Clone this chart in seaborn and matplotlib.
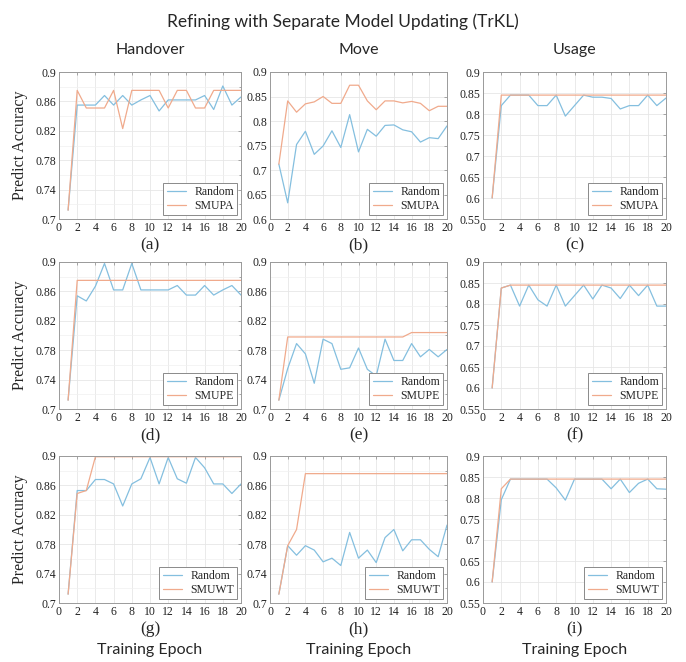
import matplotlib
matplotlib.use('Agg')
import pandas as pd
import matplotlib.pyplot as plt
import seaborn as sns
from matplotlib.ticker import MultipleLocator

#%% data
epochs = list(range(1, 21))

# row 1: SMUPA
ho_random_a = [0.712, 0.855, 0.855, 0.855, 0.868, 0.855, 0.868, 0.855, 0.862, 0.868,
               0.847, 0.862, 0.862, 0.862, 0.862, 0.868, 0.849, 0.881, 0.855, 0.866]
ho_smupa = [0.712, 0.875, 0.851, 0.851, 0.851, 0.875, 0.823, 0.875, 0.875, 0.875,
            0.875, 0.851, 0.875, 0.875, 0.851, 0.851, 0.875, 0.875, 0.875, 0.875]
mv_random_a = [0.712, 0.633, 0.752, 0.779, 0.732, 0.749, 0.780, 0.746, 0.813, 0.737,
               0.783, 0.769, 0.791, 0.792, 0.782, 0.778, 0.757, 0.766, 0.764, 0.790]
mv_smupa = [0.712, 0.841, 0.818, 0.835, 0.839, 0.850, 0.836, 0.836, 0.873, 0.873,
            0.841, 0.823, 0.841, 0.841, 0.837, 0.840, 0.836, 0.821, 0.830, 0.830]
us_random_a = [0.600, 0.820, 0.845, 0.845, 0.845, 0.820, 0.820, 0.845, 0.795, 0.820,
               0.845, 0.840, 0.840, 0.837, 0.812, 0.820, 0.820, 0.845, 0.820, 0.838]
us_smupa = [0.600, 0.845, 0.845, 0.845, 0.845, 0.845, 0.845, 0.845, 0.845, 0.845,
            0.845, 0.845, 0.845, 0.845, 0.845, 0.845, 0.845, 0.845, 0.845, 0.845]

# row 2: SMUPE
ho_random_e = [0.712, 0.854, 0.847, 0.867, 0.898, 0.862, 0.862, 0.898, 0.862, 0.862,
               0.862, 0.862, 0.868, 0.855, 0.855, 0.868, 0.855, 0.862, 0.868, 0.855]
ho_smupe = [0.712, 0.875, 0.875, 0.875, 0.875, 0.875, 0.875, 0.875, 0.875, 0.875,
            0.875, 0.875, 0.875, 0.875, 0.875, 0.875, 0.875, 0.875, 0.875, 0.875]
mv_random_e = [0.712, 0.755, 0.789, 0.775, 0.735, 0.795, 0.789, 0.754, 0.756, 0.783,
               0.754, 0.745, 0.795, 0.766, 0.766, 0.789, 0.771, 0.781, 0.771, 0.781]
mv_smupe = [0.712, 0.798, 0.798, 0.798, 0.798, 0.798, 0.798, 0.798, 0.798, 0.798,
            0.798, 0.798, 0.798, 0.798, 0.798, 0.804, 0.804, 0.804, 0.804, 0.804]
us_random_e = [0.600, 0.838, 0.845, 0.795, 0.845, 0.810, 0.795, 0.845, 0.795, 0.820,
               0.845, 0.812, 0.845, 0.838, 0.813, 0.845, 0.820, 0.845, 0.795, 0.795]
us_smupe = [0.600, 0.838, 0.845, 0.845, 0.845, 0.845, 0.845, 0.845, 0.845, 0.845,
            0.845, 0.845, 0.845, 0.845, 0.845, 0.845, 0.845, 0.845, 0.845, 0.845]

# row 3: SMUWT
ho_random_w = [0.712, 0.853, 0.853, 0.868, 0.868, 0.862, 0.832, 0.862, 0.869, 0.898,
               0.862, 0.898, 0.869, 0.863, 0.898, 0.884, 0.862, 0.862, 0.849, 0.862]
ho_smuwt = [0.712, 0.849, 0.853, 0.899, 0.899, 0.899, 0.899, 0.899, 0.899, 0.899,
            0.899, 0.899, 0.899, 0.899, 0.899, 0.899, 0.899, 0.899, 0.899, 0.899]
mv_random_w = [0.712, 0.778, 0.765, 0.778, 0.772, 0.756, 0.761, 0.751, 0.796, 0.761,
               0.772, 0.755, 0.789, 0.800, 0.771, 0.786, 0.786, 0.773, 0.763, 0.806]
mv_smuwt = [0.712, 0.778, 0.800, 0.876, 0.876, 0.876, 0.876, 0.876, 0.876, 0.876,
            0.876, 0.876, 0.876, 0.876, 0.876, 0.876, 0.876, 0.876, 0.876, 0.876]
us_random_w = [0.600, 0.796, 0.845, 0.845, 0.845, 0.845, 0.845, 0.824, 0.795, 0.845,
               0.845, 0.845, 0.845, 0.822, 0.845, 0.813, 0.835, 0.845, 0.822, 0.821]
us_smuwt = [0.600, 0.822, 0.845, 0.845, 0.845, 0.845, 0.845, 0.845, 0.845, 0.845,
            0.845, 0.845, 0.845, 0.845, 0.845, 0.845, 0.845, 0.845, 0.845, 0.845]

col_titles = ['Handover', 'Move', 'Usage']
method_names = ['SMUPA', 'SMUPE', 'SMUWT']
letters = ['(a)', '(b)', '(c)', '(d)', '(e)', '(f)', '(g)', '(h)', '(i)']

ticks_04 = [0.7, 0.74, 0.78, 0.82, 0.86, 0.9]
labels_04 = ['0.7', '0.74', '0.78', '0.82', '0.86', '0.9']
ticks_05a = [0.6, 0.65, 0.7, 0.75, 0.8, 0.85, 0.9]
labels_05a = ['0.6', '0.65', '0.7', '0.75', '0.8', '0.85', '0.9']
ticks_05b = [0.55, 0.6, 0.65, 0.7, 0.75, 0.8, 0.85, 0.9]
labels_05b = ['0.55', '0.6', '0.65', '0.7', '0.75', '0.8', '0.85', '0.9']

rows = [
    [(ho_random_a, ho_smupa, ticks_04, labels_04),
     (mv_random_a, mv_smupa, ticks_05a, labels_05a),
     (us_random_a, us_smupa, ticks_05b, labels_05b)],
    [(ho_random_e, ho_smupe, ticks_04, labels_04),
     (mv_random_e, mv_smupe, ticks_04, labels_04),
     (us_random_e, us_smupe, ticks_05b, labels_05b)],
    [(ho_random_w, ho_smuwt, ticks_04, labels_04),
     (mv_random_w, mv_smuwt, ticks_04, labels_04),
     (us_random_w, us_smuwt, ticks_05b, labels_05b)],
]

#%% style
sns.set_style('white')
plt.rcParams['font.family'] = ['Liberation Serif', 'DejaVu Serif']
sans_font = ['Lato', 'DejaVu Sans']

blue = '#84bfdf'
orange = '#f0aa8c'

W, H = 686, 662
fig = plt.figure(figsize=(W / 100, H / 100), dpi=100)

row_tops = [72, 262, 456]
row_height = 147
col_lefts = [59, 270, 483]
col_rights = [241, 447, 666]

fig.text(0.5, 1 - 22 / H, 'Refining with Separate Model Updating (TrKL)',
         ha='center', va='center', fontsize=12.5, family=sans_font)

for r, row in enumerate(rows):
    for c, (rand, smu, ticks, tlabels) in enumerate(row):
        l, t = col_lefts[c], row_tops[r]
        w = col_rights[c] - l
        ax = fig.add_axes([l / W, 1 - (t + row_height) / H, w / W, row_height / H])

        df = pd.DataFrame({
            'Epoch': epochs + epochs,
            'Accuracy': rand + smu,
            'Method': ['Random'] * len(epochs) + [method_names[r]] * len(epochs),
        })
        sns.lineplot(data=df, x='Epoch', y='Accuracy', hue='Method',
                     palette=[blue, orange], linewidth=0.9, ax=ax)

        ax.set_xlim(0, 20)
        ax.set_xticks(range(0, 21, 2))
        ax.set_ylim(ticks[0], ticks[-1])
        ax.set_yticks(ticks)
        ax.set_yticklabels(tlabels)
        if len(ticks) == 6:
            ax.yaxis.set_minor_locator(MultipleLocator(0.02))
        ax.grid(True, which='major', color='#e6e6e6', linewidth=0.6)
        ax.grid(True, which='minor', axis='y', color='#f0f0f0', linewidth=0.5)
        ax.set_axisbelow(True)
        ax.tick_params(which='both', direction='in', top=True, right=True,
                       length=2.5, width=0.5, color='#888888',
                       labelsize=8.5, labelcolor='#222222', pad=2)
        ax.tick_params(which='minor', length=1.5)
        for sp in ax.spines.values():
            sp.set_color('#9a9a9a')
            sp.set_linewidth(0.7)

        handles, labels = ax.get_legend_handles_labels()
        ax.legend(handles, labels, loc='lower right', frameon=True, fancybox=False,
                  edgecolor='#8a8a8a', fontsize=8.5, handlelength=1.6,
                  handletextpad=0.7, borderpad=0.3, labelspacing=0.15,
                  borderaxespad=0.3, framealpha=1)
        ax.get_legend().get_frame().set_linewidth(0.7)

        ax.set_xlabel('')
        ax.set_ylabel('')
        if c == 0:
            ax.set_ylabel('Predict Accuracy', fontsize=11.5)
            ax.yaxis.set_label_coords(-31 / w, 0.5)
        if r == 0:
            ax.set_title(col_titles[c], fontsize=11.5, pad=13, family=sans_font)

        ax.annotate(letters[r * 3 + c], xy=(0.5, 0), xycoords='axes fraction',
                    xytext=(0, -19), textcoords='offset points',
                    ha='center', va='center', fontsize=12.5)
        if r == 2:
            ax.annotate('Training Epoch', xy=(0.5, 0), xycoords='axes fraction',
                        xytext=(0, -34), textcoords='offset points',
                        ha='center', va='center', fontsize=11.5, family=sans_font)

fig.savefig('out.png', dpi=100)
